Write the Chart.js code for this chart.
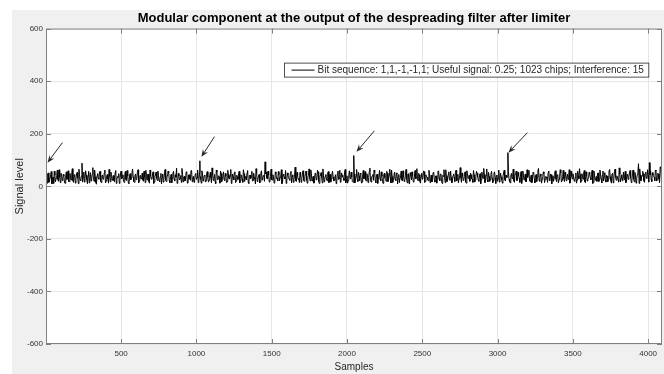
<!DOCTYPE html>
<html>
<head>
<meta charset="utf-8">
<script src="https://cdn.jsdelivr.net/npm/chart.js@4/dist/chart.umd.min.js"></script>
<style>
  html, body { margin: 0; padding: 0; background: #fff; }
  #wrap { width: 664px; height: 374px; }
</style>
</head>
<body>
<div id="wrap"><canvas id="sigChart" width="664" height="374"></canvas></div>
<script>
// Limiter output: samples 0, 8, 16, ... and 4, 12, 20, ... interleaved
const noiseStep = 8;
const noiseLevelsA = [
  38, 12, 51, 20, 44, 9, 35, 58, 17, 41, 26, 63, 14, 47, 22, 39,
  11, 55, 30, 18, 49, 24, 67, 15, 42, 28, 53, 10, 37, 21, 88, 33,
  16, 59, 25, 40, 13, 52, 29, 71, 19, 36, 8, 48, 27, 57, 14, 43,
  31, 62, 20, 45, 12, 38, 54, 23, 41, 17, 60, 26, 35, 11, 50, 29,
  44, 15, 57, 22, 39, 10, 48, 33, 66, 18, 42, 25, 53, 13, 37, 28,
  50, 19, 34, 61, 24, 46, 12, 40, 27, 55, 16, 43, 30, 58, 21, 36,
  9, 47, 26, 64, 18, 39, 52, 14, 45, 31, 57, 20, 35, 11, 49, 24,
  41, 68, 17, 38, 28, 54, 13, 44, 23, 59, 32, 15, 46, 26, 62, 19,
  37, 12, 51, 29, 43, 21, 56, 16, 40, 33, 70, 22, 45, 10, 53, 27,
  35, 58, 18, 42, 25, 49, 14, 61, 30, 39, 11, 47, 24, 55, 20, 36,
  48, 13, 44, 27, 63, 19, 38, 52, 15, 41, 29, 57, 22, 34, 9, 50,
  26, 45, 17, 59, 32, 40, 93, 54, 28, 43, 18, 65, 24, 37, 14, 48,
  31, 56, 21, 39, 10, 46, 34, 60, 19, 42, 27, 51, 13, 44, 25, 73,
  18, 40, 29, 53, 15, 47, 23, 36, 58, 12, 41, 30, 62, 20, 38, 16,
  49, 27, 55, 11, 43, 33, 66, 17, 39, 24, 52, 14, 45, 28, 57, 21,
  36, 10, 48, 26, 61, 19, 42, 31, 54, 13, 40, 22, 59, 29, 35, 15,
  47, 25, 64, 18, 37, 50, 12, 44, 28, 56, 20, 41, 33, 69, 16, 39,
  23, 53, 14, 46, 30, 60, 21, 38, 11, 49, 27, 57, 18, 43, 34, 62,
  15, 42, 26, 51, 9, 45, 32, 58, 20, 37, 24, 64, 13, 48, 29, 40,
  55, 17, 39, 28, 67, 22, 44, 12, 50, 31, 56, 19, 36, 25, 61, 14,
  43, 30, 53, 16, 40, 27, 59, 21, 47, 11, 38, 33, 63, 18, 45, 26,
  58, 13, 41, 35, 52, 20, 46, 29, 71, 15, 39, 24, 55, 12, 49, 32,
  19, 44, 27, 60, 16, 37, 50, 23, 42, 10, 54, 30, 45, 21, 66, 17,
  38, 26, 57, 14, 48, 33, 41, 19, 62, 28, 36, 12, 51, 25, 43, 35,
  56, 18, 40, 29, 65, 15, 46, 22, 53, 31, 39, 11, 58, 24, 47, 20,
  34, 61, 17, 43, 27, 50, 13, 45, 36, 68, 19, 41, 26, 55, 14, 38,
  29, 52, 22, 47, 10, 40, 33, 59, 18, 44, 25, 63, 16, 37, 30, 54,
  21, 46, 35, 12, 57, 28, 42, 19, 51, 24, 39, 67, 15, 48, 27, 60,
  14, 41, 26, 53, 32, 45, 11, 58, 23, 37, 49, 18, 62, 29, 43, 20,
  52, 16, 39, 28, 64, 22, 47, 13, 55, 34, 40, 25, 70, 17, 44, 31,
  25, 57, 19, 42, 36, 60, 14, 48, 27, 53, 12, 45, 86, 66, 21, 39,
  47, 15, 54, 30, 41, 90, 59, 18, 43, 35, 62, 20, 50, 28, 74, 33
];
const noiseLevelsB = [
  22, 47, 15, 33, 56, 27, 11, 42, 30, 61, 19, 36, 50, 24, 45, 13,
  40, 26, 59, 18, 35, 52, 21, 44, 12, 48, 31, 65, 23, 39, 16, 54,
  29, 43, 10, 57, 34, 20, 46, 25, 62, 14, 41, 32, 55, 19, 38, 27,
  51, 13, 40, 28, 64, 17, 45, 30, 22, 53, 11, 37, 48, 21, 58, 34,
  18, 44, 26, 60, 12, 39, 24, 51, 36, 15, 47, 29, 63, 20, 42, 31,
  25, 57, 14, 38, 46, 19, 62, 28, 43, 11, 35, 54, 22, 41, 17, 49,
  33, 16, 52, 23, 40, 58, 20, 37, 13, 50, 26, 44, 69, 18, 39, 30,
  15, 46, 35, 21, 55, 12, 43, 28, 60, 17, 38, 24, 49, 33, 14, 52,
  27, 59, 20, 41, 16, 47, 34, 23, 53, 13, 44, 30, 18, 62, 25, 40,
  12, 49, 31, 55, 22, 38, 17, 45, 28, 64, 19, 36, 53, 14, 42, 26,
  57, 21, 39, 15, 48, 33, 24, 60, 11, 43, 35, 20, 50, 27, 67, 18,
  36, 13, 52, 24, 41, 19, 47, 30, 58, 16, 37, 25, 44, 12, 55, 29,
  20, 45, 34, 63, 17, 42, 28, 11, 51, 33, 23, 57, 38, 15, 46, 21,
  53, 26, 14, 41, 30, 59, 19, 48, 25, 35, 66, 20, 43, 31, 12, 50,
  24, 61, 18, 37, 52, 13, 40, 27, 45, 21, 56, 32, 16, 47, 35, 23,
  44, 19, 58, 29, 15, 51, 36, 22, 64, 26, 12, 42, 30, 54, 18, 41,
  13, 38, 27, 53, 21, 46, 16, 60, 33, 24, 48, 14, 57, 22, 36, 45,
  62, 20, 43, 11, 39, 28, 55, 17, 44, 32, 19, 50, 26, 65, 13, 37,
  30, 54, 22, 47, 35, 14, 42, 25, 59, 18, 40, 28, 46, 10, 52, 24,
  41, 16, 60, 32, 23, 49, 19, 37, 27, 58, 15, 44, 35, 21, 48, 29,
  17, 52, 25, 39, 12, 56, 31, 46, 20, 42, 63, 14, 38, 27, 55, 23,
  34, 21, 47, 18, 61, 26, 13, 40, 33, 51, 22, 45, 17, 59, 30, 42,
  50, 28, 15, 44, 24, 57, 36, 19, 48, 26, 35, 68, 14, 41, 25, 53,
  19, 46, 32, 22, 55, 11, 43, 30, 16, 50, 24, 39, 61, 20, 34, 47,
  28, 13, 49, 37, 20, 45, 58, 23, 40, 15, 56, 27, 42, 33, 17, 63,
  46, 24, 36, 14, 53, 29, 41, 18, 60, 22, 47, 12, 38, 49, 26, 35,
  15, 58, 21, 44, 31, 19, 54, 27, 43, 13, 36, 50, 23, 61, 18, 42,
  37, 26, 63, 17, 40, 48, 22, 34, 12, 57, 29, 45, 20, 38, 52, 16,
  55, 20, 33, 46, 25, 61, 15, 41, 30, 19, 51, 27, 44, 13, 58, 36,
  24, 42, 18, 57, 37, 12, 49, 28, 65, 23, 35, 16, 47, 31, 21, 54,
  39, 14, 45, 26, 51, 33, 22, 62, 17, 40, 29, 55, 11, 43, 36, 57,
  20, 48, 31, 63, 16, 44, 27, 52, 38, 21, 58, 25, 46, 14, 71, 30
];

// Correlation peaks, one per 1023-chip period
const spikeSamples = [1, 1023, 2046, 3069];
const spikeLevels = [84, 97, 117, 128];

// Arrows pointing at the peaks (tip and tail, in data units)
const arrowTipSamples = [11, 1033, 2063, 3072];
const arrowTipLevels = [90, 112, 131, 128];
const arrowTailSamples = [110, 1120, 2182, 3198];
const arrowTailLevels = [166, 189, 211, 204];

const xTicks = [500, 1000, 1500, 2000, 2500, 3000, 3500, 4000];
const yTicks = [-600, -400, -200, 0, 200, 400, 600];

const seriesLabel = 'Bit sequence: 1,1,-1,-1,1; Useful signal: 0.25; 1023 chips; Interference: 15';

const points = [];
noiseLevelsA.forEach((v, i) => points.push({ x: i * noiseStep, y: v }));
noiseLevelsB.forEach((v, i) => points.push({ x: i * noiseStep + noiseStep / 2, y: v }));
spikeSamples.forEach((s, i) => points.push({ x: s, y: spikeLevels[i] }));
points.sort((a, b) => a.x - b.x);

const FONT = '"Liberation Sans", Arial, Helvetica, sans-serif';
Chart.defaults.font.family = FONT;

// figure background, white axes, box + inward ticks, legend, arrows
const figurePlugin = {
    id: 'figure',
    beforeDraw(chart) {
        const { ctx, chartArea: a } = chart;
        ctx.save();
        ctx.fillStyle = '#ffffff';
        ctx.fillRect(0, 0, chart.width, chart.height);
        ctx.fillStyle = '#f0f0f0';
        ctx.fillRect(12, 10, chart.width - 12, chart.height - 10);
        ctx.fillStyle = '#ffffff';
        ctx.fillRect(a.left, a.top, a.right - a.left, a.bottom - a.top);
        ctx.restore();
    },
    afterDatasetsDraw(chart) {
        const { ctx, chartArea: a } = chart;
        const xs = chart.scales.x, ys = chart.scales.y;

        // arrows
        ctx.save();
        ctx.strokeStyle = '#262626';
        ctx.fillStyle = '#262626';
        ctx.lineWidth = 1;
        arrowTipSamples.forEach((s, i) => {
            const x1 = xs.getPixelForValue(arrowTailSamples[i]);
            const y1 = ys.getPixelForValue(arrowTailLevels[i]);
            const x2 = xs.getPixelForValue(s);
            const y2 = ys.getPixelForValue(arrowTipLevels[i]);
            const ang = Math.atan2(y2 - y1, x2 - x1);
            const head = 8, spread = 0.38;
            ctx.beginPath();
            ctx.moveTo(x1, y1);
            ctx.lineTo(x2 - Math.cos(ang) * head * 0.6, y2 - Math.sin(ang) * head * 0.6);
            ctx.stroke();
            ctx.beginPath();
            ctx.moveTo(x2, y2);
            ctx.lineTo(x2 - head * Math.cos(ang - spread), y2 - head * Math.sin(ang - spread));
            ctx.lineTo(x2 - head * 0.6 * Math.cos(ang), y2 - head * 0.6 * Math.sin(ang));
            ctx.lineTo(x2 - head * Math.cos(ang + spread), y2 - head * Math.sin(ang + spread));
            ctx.closePath();
            ctx.fill();
        });
        ctx.restore();

        // axes box with inward ticks
        ctx.save();
        ctx.strokeStyle = '#808080';
        ctx.lineWidth = 1;
        ctx.strokeRect(a.left + 0.5, a.top + 0.5, a.right - a.left - 1, a.bottom - a.top - 1);
        ctx.beginPath();
        xTicks.forEach(v => {
            const px = Math.round(xs.getPixelForValue(v)) + 0.5;
            ctx.moveTo(px, a.bottom); ctx.lineTo(px, a.bottom - 5);
            ctx.moveTo(px, a.top); ctx.lineTo(px, a.top + 5);
        });
        yTicks.forEach(v => {
            const py = Math.round(ys.getPixelForValue(v)) + 0.5;
            ctx.moveTo(a.left, py); ctx.lineTo(a.left + 5, py);
            ctx.moveTo(a.right, py); ctx.lineTo(a.right - 5, py);
        });
        ctx.stroke();
        ctx.restore();

        // legend box
        ctx.save();
        ctx.font = '10px ' + FONT;
        const tw = ctx.measureText(seriesLabel).width;
        const bw = tw + 38, bh = 14;
        const bx = Math.round(a.right - 14 - bw) + 0.5;
        const by = a.top + 34.5;
        ctx.fillStyle = '#ffffff';
        ctx.fillRect(bx, by, bw, bh);
        ctx.strokeStyle = '#262626';
        ctx.lineWidth = 0.8;
        ctx.strokeRect(bx, by, bw, bh);
        ctx.beginPath();
        ctx.moveTo(bx + 7, by + bh / 2);
        ctx.lineTo(bx + 30, by + bh / 2);
        ctx.strokeStyle = '#000000';
        ctx.lineWidth = 1;
        ctx.stroke();
        ctx.fillStyle = '#262626';
        ctx.textBaseline = 'middle';
        ctx.fillText(seriesLabel, bx + 33, by + bh / 2 + 0.5);
        ctx.restore();
    }
};

new Chart(document.getElementById('sigChart'), {
    type: 'line',
    data: {
        datasets: [{
            label: seriesLabel,
            data: points,
            borderColor: '#000000',
            borderWidth: 1,
            pointRadius: 0,
            tension: 0,
            fill: false
        }]
    },
    options: {
        responsive: false,
        animation: false,
        events: [],
        layout: { padding: { left: 0, right: 2, top: 0, bottom: 0 } },
        plugins: {
            legend: { display: false },
            tooltip: { enabled: false },
            title: {
                display: true,
                fullSize: false,
                text: 'Modular component at the output of the despreading filter after limiter',
                color: '#000000',
                font: { size: 13, weight: 'bold' },
                padding: { top: 11, bottom: 2 }
            }
        },
        scales: {
            x: {
                type: 'linear',
                min: 1,
                max: 4092,
                afterBuildTicks: s => { s.ticks = xTicks.map(v => ({ value: v })); },
                afterFit: s => { s.height = 30; },
                grid: { color: '#e6e6e6', drawTicks: false },
                border: { display: false },
                ticks: { color: '#333333', font: { size: 8 }, padding: 5, maxRotation: 0, callback: v => String(v) },
                title: { display: true, text: 'Samples', color: '#262626', font: { size: 10 }, padding: { top: 0, bottom: 1 } }
            },
            y: {
                min: -600,
                max: 600,
                afterBuildTicks: s => { s.ticks = yTicks.map(v => ({ value: v })); },
                afterFit: s => { s.width = 46; },
                grid: { color: '#e6e6e6', drawTicks: false },
                border: { display: false },
                ticks: { color: '#333333', font: { size: 8 }, padding: 3, callback: v => String(v) },
                title: { display: true, text: 'Signal level', color: '#262626', font: { size: 11 }, padding: { top: 13, bottom: 0 } }
            }
        }
    },
    plugins: [figurePlugin]
});
</script>
</body>
</html>
